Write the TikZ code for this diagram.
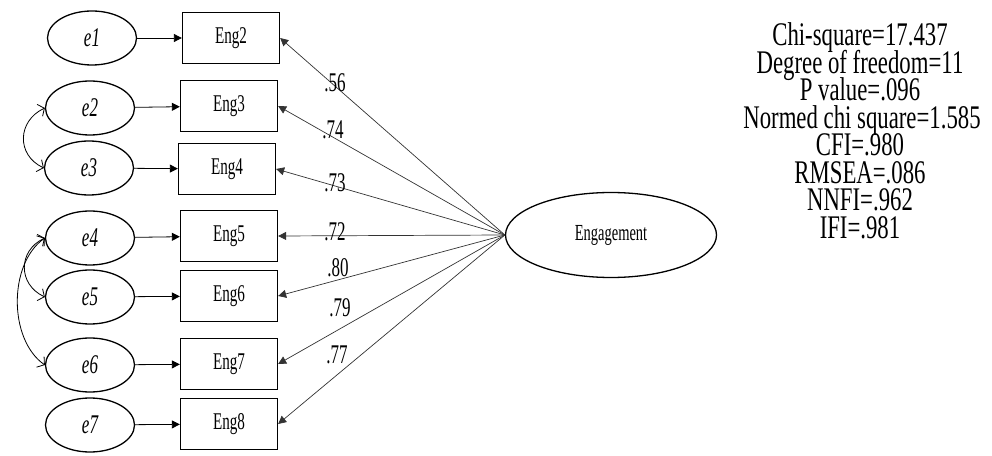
\documentclass[tikz,border=0pt]{standalone}
\usepackage{fontspec}
\setmainfont{Liberation Serif}[FakeStretch=0.63]
\newfontfamily\fitfont{Liberation Serif}[FakeStretch=0.69]
\usepackage{tikz}
\usetikzlibrary{arrows.meta, shapes.geometric, positioning}

\begin{document}
\begin{tikzpicture}[x=1pt, y=1pt,
    err/.style={draw, line width=1.3pt, ellipse, minimum width=89pt, minimum height=54pt, inner sep=0pt, font=\fontsize{27}{27}\selectfont\itshape},
    item/.style={draw, line width=1.3pt, minimum width=97pt, minimum height=51pt, inner sep=0pt, font=\fontsize{24}{24}\selectfont},
    load/.style={-{Triangle[length=8pt, width=8pt]}, black!80, line width=0.7pt},
    path/.style={-{Triangle[length=8pt, width=8pt]}, line width=0.8pt},
    cov/.style={{Straight Barb[length=5pt, width=13pt]}-{Straight Barb[length=5pt, width=13pt]}, line width=0.8pt},
    coef/.style={font=\fontsize{27}{27}\selectfont},
    fitline/.style={anchor=base, inner sep=0pt, text height=21pt, text depth=5pt, font=\fitfont\fontsize{33}{33}\selectfont}]
    \useasboundingbox ({0},{0}) rectangle ({992},{455});

    % error terms
    \node[err] (e1) at ({92},{417}) {e1};
    \node[err] (e2) at ({90},{347}) {e2};
    \node[err] (e3) at ({89},{287}) {e3};
    \node[err] (e4) at ({90},{217}) {e4};
    \node[err] (e5) at ({90},{158}) {e5};
    \node[err] (e6) at ({90},{90}) {e6};
    \node[err] (e7) at ({90},{30}) {e7};

    % indicators
    \node[item] (eng2) at ({231},{417}) {Eng2};
    \node[item] (eng3) at ({229},{349}) {Eng3};
    \node[item] (eng4) at ({227},{286}) {Eng4};
    \node[item] (eng5) at ({229},{219}) {Eng5};
    \node[item] (eng6) at ({229},{159}) {Eng6};
    \node[item] (eng7) at ({229},{91}) {Eng7};
    \node[item] (eng8) at ({229},{31}) {Eng8};

    % latent factor
    \node[draw, line width=1.3pt, ellipse, minimum width=211pt, minimum height=85pt, font=\fontsize{23}{23}\selectfont] (eng) at ({611},{220}) {Engagement};

    \draw[path] (e1) -- (eng2);
    \draw[path] (e2) -- (eng3);
    \draw[path] (e3) -- (eng4);
    \draw[path] (e4) -- (eng5);
    \draw[path] (e5) -- (eng6);
    \draw[path] (e6) -- (eng7);
    \draw[path] (e7) -- (eng8);

    \draw[load] (eng.west) -- (eng2.east);
    \draw[load] (eng.west) -- (eng3.east);
    \draw[load] (eng.west) -- (eng4.east);
    \draw[load] (eng.west) -- (eng5.east);
    \draw[load] (eng.west) -- (eng6.east);
    \draw[load] (eng.west) -- (eng7.east);
    \draw[load] (eng.west) -- (eng8.east);

    \node[coef] (l2) at ({335},{372}) {.56};
    \node[coef] (l3) at ({333},{325}) {.74};
    \node[coef] (l4) at ({335},{272}) {.73};
    \node[coef] (l5) at ({335},{223}) {.72};
    \node[coef] (l6) at ({338},{187}) {.80};
    \node[coef] (l7) at ({340},{147}) {.79};
    \node[coef] (l8) at ({337},{100}) {.77};

    % error covariances
    \draw[cov] (e2.west) to[out=205, in=155, looseness=1.3] (e3.west);
    \draw[cov] (e4.west) to[out=205, in=155, looseness=1.3] (e5.west);
    \draw[cov] (e4.west) to[out=215, in=145, looseness=0.9] (e6.west);

    % fit indices
    \node[fitline] (chi)   at ({860},{409}) {Chi-square=17.437};
    \node[fitline] (df)    at ({860},{381.5}) {Degree of freedom=11};
    \node[fitline] (pval)  at ({860},{354}) {P value=.096};
    \node[fitline] (nchi)  at ({862},{326.5}) {Normed chi square=1.585};
    \node[fitline] (cfi)   at ({860},{299}) {CFI=.980};
    \node[fitline] (rmsea) at ({860},{271.5}) {RMSEA=.086};
    \node[fitline] (nnfi)  at ({860},{244}) {NNFI=.962};
    \node[fitline] (ifi)   at ({860},{216.5}) {IFI=.981};
\end{tikzpicture}
\end{document}
